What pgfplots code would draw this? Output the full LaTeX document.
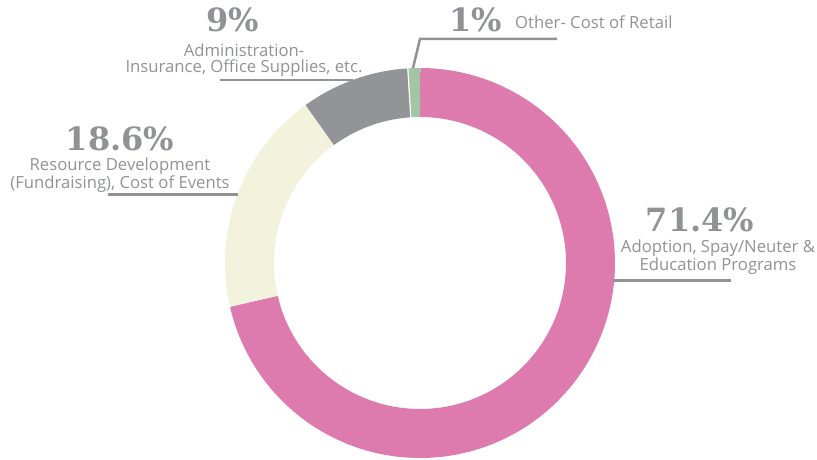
\documentclass[border=0pt]{standalone}
\usepackage{pgfplots}
\pgfplotsset{compat=1.18}
\usepackage{pgfplotstable}
\usepackage{fontspec}
\setmainfont{Open Sans}
\newfontfamily\slab{DejaVu Serif}
\definecolor{cpink}{HTML}{DE7BAE}
\definecolor{ccream}{HTML}{F3F2DC}
\definecolor{cgray}{HTML}{929497}
\definecolor{cgreen}{HTML}{A3C6A2}
\definecolor{ctext}{HTML}{909295}
\tikzset{
  lbl/.style={text=ctext, font=\fontsize{16.7}{15}\selectfont, align=center, inner sep=0pt},
  pct/.style={anchor=base, text=ctext, font=\slab\bfseries\fontsize{32}{33}\selectfont, inner sep=0pt},
}
% shares in percent
\pgfplotstableread{
share
71.4
18.6
9
1
}\shares
\begin{document}
\begin{tikzpicture}
\begin{axis}[
  scale only axis, width=817pt, height=459pt,
  xmin=0, xmax=817, ymin=0, ymax=459,
  hide axis, clip=false,
]
\path (axis cs:0,0) rectangle (axis cs:817,459);
% donut ring: centre (420,196), mid radius 170.5, ring width 49
% angles: 90 - 3.6*cumulative share
\addplot[cpink, line width=49pt, domain=-167.04:90, samples=200, variable=\t]
  ({420+170.5*cos(\t)},{196+170.5*sin(\t)});
\addplot[ccream, line width=49pt, domain=-234:-167.04, samples=60, variable=\t]
  ({420+170.5*cos(\t)},{196+170.5*sin(\t)});
\addplot[cgray, line width=49pt, domain=-266.4:-234, samples=40, variable=\t]
  ({420+170.5*cos(\t)},{196+170.5*sin(\t)});
\addplot[cgreen, line width=49pt, domain=-270:-266.4, samples=10, variable=\t]
  ({420+170.5*cos(\t)},{196+170.5*sin(\t)});
% thin separator between grey and green
\addplot[white, line width=1.2pt] coordinates {(410.8,341.7) (407.8,390.6)};
% leader lines
\addplot[ctext, line width=2.5pt] coordinates {(220,379) (353,379)};
\addplot[ctext, line width=2.5pt] coordinates {(108,264.7) (238,264.7)};
\addplot[ctext, line width=2.5pt] coordinates {(413,391) (420,420) (557,420)};
\addplot[ctext, line width=2.5pt] coordinates {(613,178.3) (731,178.3)};
% labels
\node[pct] at (axis cs:233,427) {9\%};
\node[lbl, anchor=base, font=\fontsize{16.7}{16.7}\selectfont] at (axis cs:244,386.3) {Administration-\\Insurance, Office Supplies, etc.};
\node[pct] at (axis cs:120,308.5) {18.6\%};
\node[lbl, anchor=base, font=\fontsize{16.7}{18}\selectfont] at (axis cs:120,271) {Resource Development\\(Fundraising), Cost of Events};
\node[pct] at (axis cs:476,427) {1\%};
\node[lbl, anchor=base west] at (axis cs:515,430) {Other- Cost of Retail};
\node[pct] at (axis cs:700,228) {71.4\%};
\node[lbl, anchor=base] at (axis cs:718,189) {Adoption, Spay/Neuter \&\\Education Programs};
\end{axis}
\end{tikzpicture}
\end{document}
